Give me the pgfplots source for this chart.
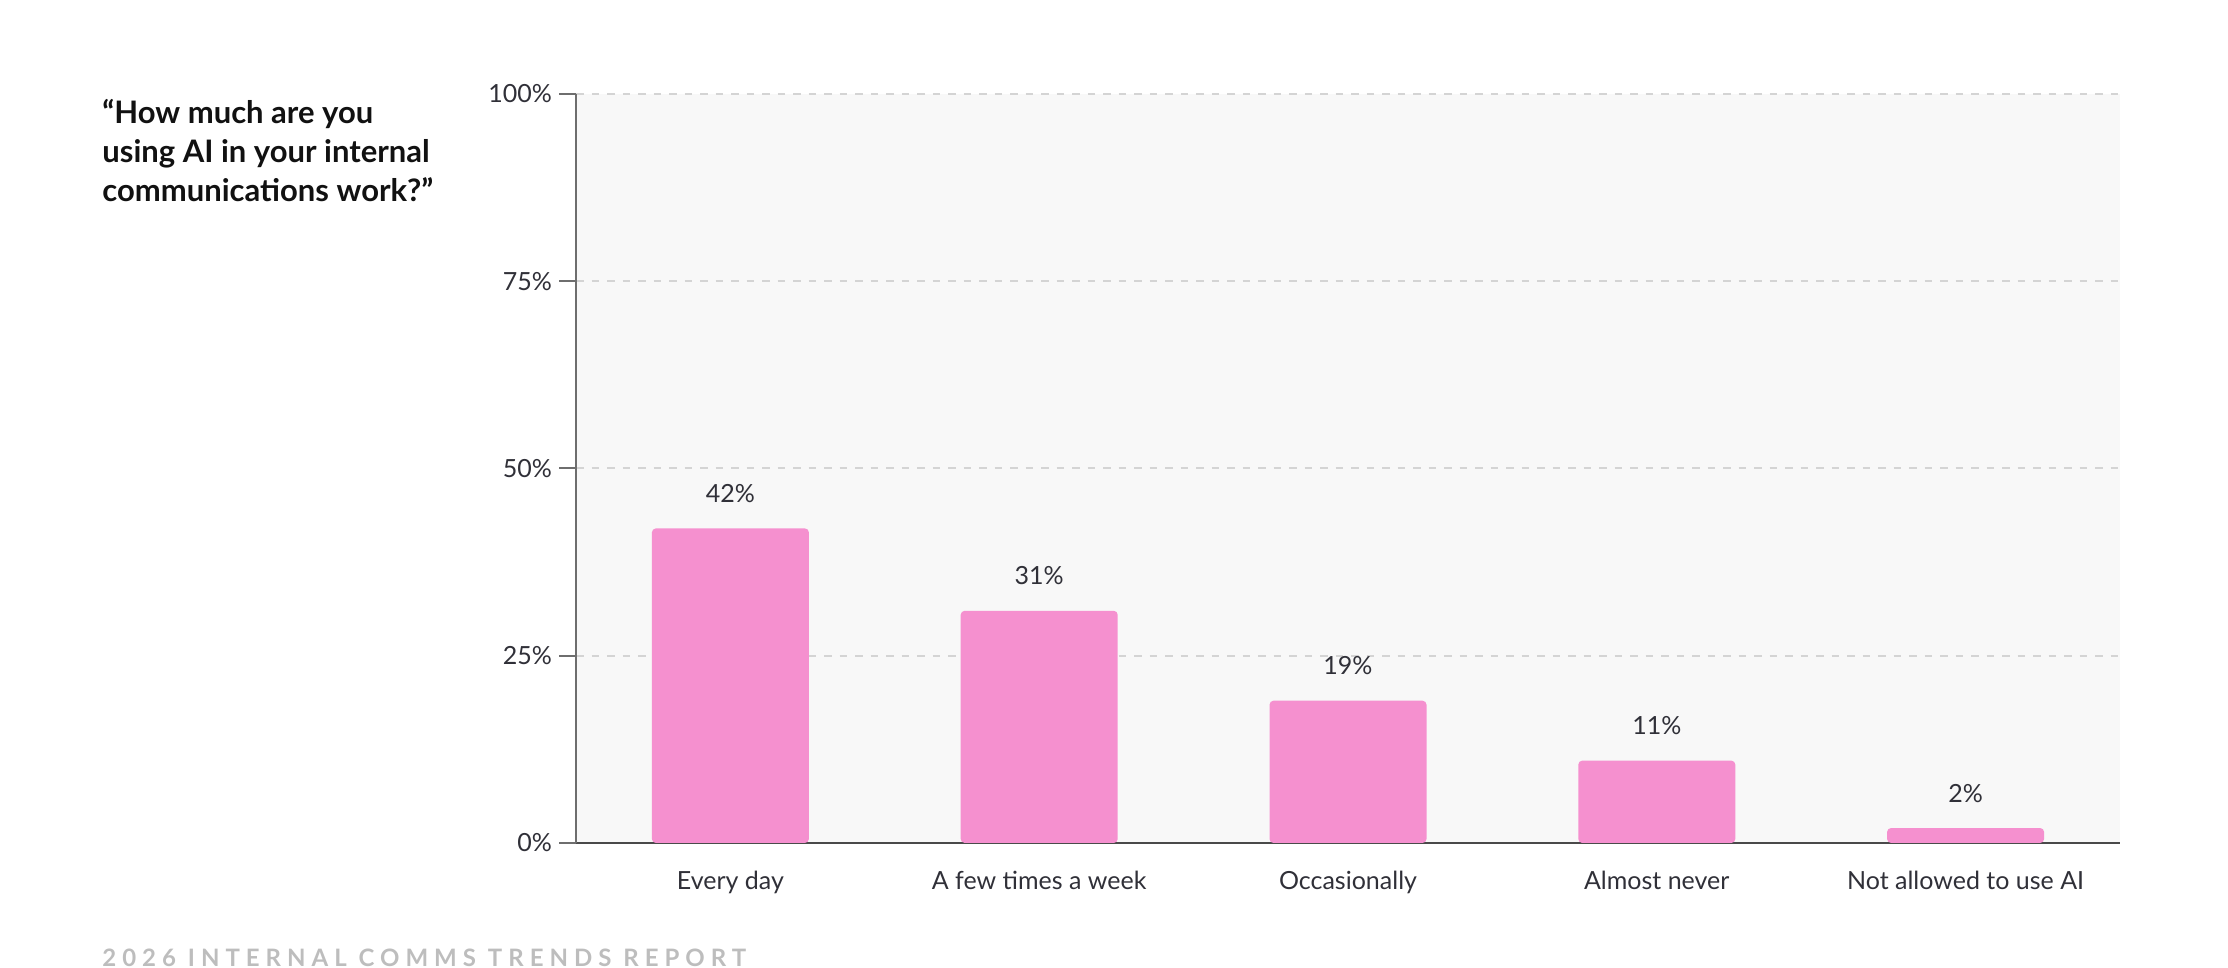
\documentclass[border=0pt]{standalone}
\usepackage{fontspec}
\setmainfont{Lato}
\usepackage{pgfplots}
\pgfplotsset{compat=1.18}
\definecolor{barpink}{HTML}{F590CF}
\definecolor{bggray}{HTML}{F8F8F8}
\definecolor{gridgray}{HTML}{D4D4D4}
\definecolor{axisdark}{HTML}{4A4A4A}
\definecolor{axisgray}{HTML}{6E6E6E}
\definecolor{labeltext}{HTML}{303038}
\definecolor{titletext}{HTML}{111111}
\definecolor{footgray}{HTML}{BDBDBD}
\begin{document}
\begin{tikzpicture}[x=1pt,y=1pt]
\path (0,0) rectangle (1114,484);
\node[anchor=base west, inner sep=0, font=\bfseries\fontsize{15.5}{18}\selectfont, text=titletext] at (51,422) {“How much are you};
\node[anchor=base west, inner sep=0, font=\bfseries\fontsize{15.5}{18}\selectfont, text=titletext] at (51,402.5) {using AI in your internal};
\node[anchor=base west, inner sep=0, font=\bfseries\fontsize{15.5}{18}\selectfont, text=titletext] at (51,383) {communications work?”};
\node[anchor=base west, inner sep=0, font=\bfseries\fontsize{12}{14}\selectfont\addfontfeature{LetterSpace=25}, text=footgray] at (51,0.5) {2026 INTERNAL COMMS TRENDS REPORT};
\begin{axis}[
  at={(288pt,62.5pt)}, anchor=south west,
  scale only axis, width=772pt, height=374.5pt,
  xmin=-0.5, xmax=4.5, ymin=0, ymax=100,
  axis lines*=left, axis line style={-},
  x axis line style={draw=axisdark, line width=1pt},
  y axis line style={draw=axisgray, line width=1pt},
  axis background/.style={fill=bggray},
  ytick={0,25,50,75,100},
  yticklabel={\pgfmathprintnumber{\tick}\%},
  ymajorgrids,
  grid style={draw=gridgray, line width=1pt, dash pattern=on 3.75pt off 4pt},
  xtick={0,1,2,3,4},
  xticklabels={Every day, A few times a week, Occasionally, Almost never, Not allowed to use AI},
  x tick style={draw=none},
  y tick style={draw=axisgray, line width=1pt},
  major tick length=8.5pt, tick align=outside,
  /pgf/number format/assume math mode=true,
  tick label style={font=\fontsize{12.5}{14}\selectfont, text=labeltext},
  xticklabel style={anchor=base, yshift=-15pt},
  ybar, bar width=78.5pt,
  nodes near coords={\pgfmathprintnumber{\pgfplotspointmeta}\%},
  nodes near coords style={anchor=base, yshift=13pt, font=\fontsize{12.5}{14}\selectfont, text=labeltext},
]
\addplot[fill=barpink, draw=none, rounded corners=2pt] coordinates {(0,42) (1,31) (2,19) (3,11) (4,2)};
\end{axis}
\end{tikzpicture}
\end{document}
